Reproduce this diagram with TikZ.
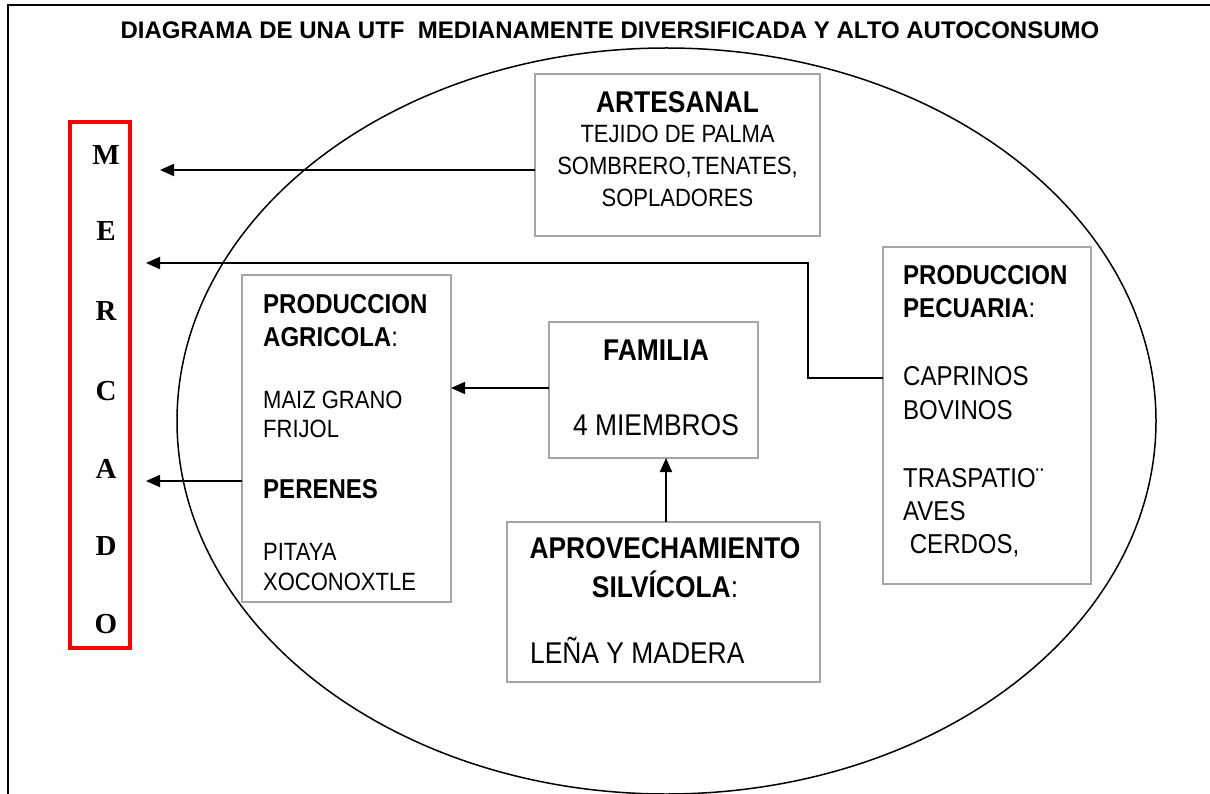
\documentclass[tikz,border=0pt]{standalone}
\usepackage{fontspec}
\setmainfont{Liberation Sans}
\newfontfamily\nar{Liberation Sans}[FakeStretch=0.88]
\newfontfamily\serifbf{Liberation Serif}
\usetikzlibrary{arrows.meta}
\definecolor{boxgray}{HTML}{A6A6A6}
\definecolor{mred}{HTML}{FF0000}
\tikzset{
  box/.style={draw=boxgray, line width=2pt, inner sep=0pt, outer sep=0pt},
  redbox/.style={draw=mred, line width=4pt, inner sep=0pt, outer sep=0pt},
  arr/.style={line width=1.8pt, -{Triangle[length=14pt,width=12pt]}},
  ltxt/.style={anchor=base west, inner sep=0pt},
  ctxt/.style={anchor=base, inner sep=0pt},
  letter/.style={anchor=center, inner sep=0pt, font=\serifbf\bfseries\fontsize{29}{29}\selectfont},
  body/.style={font=\nar\fontsize{25}{29}\selectfont},
  bodyl/.style={font=\nar\fontsize{27.3}{30}\selectfont},
  bodyxl/.style={font=\nar\fontsize{30}{33}\selectfont},
  head/.style={font=\nar\bfseries\fontsize{27.3}{30}\selectfont},
  headl/.style={font=\nar\bfseries\fontsize{30}{33}\selectfont},
}
\begin{document}
\begin{tikzpicture}[x=1pt,y=-1pt]
\useasboundingbox (0,0) rectangle (1210,794);
% frame
\draw[line width=2pt] (8,800) -- (8,5) -- (1215,5);
% title
\node[ctxt, font=\bfseries\fontsize{24}{28}\selectfont] (title) at (610,39) {DIAGRAMA DE UNA UTF \ MEDIANAMENTE DIVERSIFICADA Y ALTO AUTOCONSUMO};
% ellipse
\draw[line width=1.5pt] (666.5,421) ellipse [x radius=489.5pt, y radius=373pt];
% mercado
\node[redbox, minimum width=60pt, minimum height=526pt] (merc) at (100,385) {};
\node[letter] (lm) at (106,155.5) {M};
\node[letter] (le) at (106,231) {E};
\node[letter] (lr) at (106,311) {R};
\node[letter] (lc) at (106,391) {C};
\node[letter] (la) at (106,468.5) {A};
\node[letter] (ld) at (106,546) {D};
\node[letter] (lo) at (106,624) {O};
% boxes
\node[box, minimum width=285pt, minimum height=162pt] (art) at (677.5,155) {};
\node[box, minimum width=209pt, minimum height=327pt] (agr) at (346.5,438.5) {};
\node[box, minimum width=209pt, minimum height=136pt] (fam) at (653.5,390) {};
\node[box, minimum width=313pt, minimum height=160pt] (sil) at (663.5,602) {};
\node[box, minimum width=208pt, minimum height=337pt] (pec) at (987,415.5) {};
% artesanal text
\node[ctxt, headl] (t1) at (677.5,113) {ARTESANAL};
\node[ctxt, body] (t2) at (677.5,143) {TEJIDO DE PALMA};
\node[ctxt, body] (t3) at (677.5,175) {SOMBRERO,TENATES,};
\node[ctxt, body] (t4) at (677.5,207) {SOPLADORES};
% agricola text
\node[ltxt, head] (g1) at (263,313) {PRODUCCION};
\node[ltxt, head] (g2) at (263,346) {AGRICOLA\textmd{:}};
\node[ltxt, body] (g3) at (263,408) {MAIZ GRANO};
\node[ltxt, body] (g4) at (263,437) {FRIJOL};
\node[ltxt, head] (g5) at (263,498) {PERENES};
\node[ltxt, body] (g6) at (263,560) {PITAYA};
\node[ltxt, body] (g7) at (263,590) {XOCONOXTLE};
% familia text
\node[ctxt, headl] (f1) at (656,360) {FAMILIA};
\node[ctxt, bodyxl] (f2) at (656,435) {4 MIEMBROS};
% silvicola text
\node[ctxt, headl] (s1) at (665,558) {APROVECHAMIENTO};
\node[ctxt, headl] (s2) at (665,597) {SILVÍCOLA\textmd{:}};
\node[ltxt, bodyxl] (s3) at (530,663) {LEÑA Y MADERA};
% pecuaria text
\node[ltxt, head] (p1) at (903,285) {PRODUCCION};
\node[ltxt, head] (p2) at (903,318) {PECUARIA\textmd{:}};
\node[ltxt, bodyl] (p3) at (903,385) {CAPRINOS};
\node[ltxt, bodyl] (p4) at (903,419) {BOVINOS};
\node[ltxt, bodyl] (p5) at (903,487) {TRASPATIO¨};
\node[ltxt, bodyl] (p6) at (903,520) {AVES};
\node[ltxt, bodyl] (p7) at (903,553) {\ CERDOS,};
% connectors
\coordinate (a1) at (160,170);
\coordinate (a2) at (146,263);
\coordinate (k2) at (808,378);
\coordinate (a3) at (146,481);
\coordinate (h4) at (0,388);
\coordinate (v5) at (666,0);
\draw[arr] (art.west |- a1) -- (a1);
\draw[arr] (pec.west |- k2) -- (k2) |- (a2);
\draw[arr] (agr.west |- a3) -- (a3);
\draw[arr] (fam.west |- h4) -- (agr.east |- h4);
\draw[arr] (sil.north -| v5) -- (fam.south -| v5);
\end{tikzpicture}
\end{document}
